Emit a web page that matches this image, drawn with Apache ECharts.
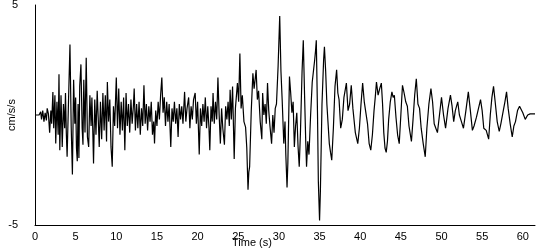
<!DOCTYPE html>
<html>
<head>
<meta charset="utf-8">
<script src="https://cdn.jsdelivr.net/npm/echarts@6/dist/echarts.min.js"></script>
<style>html,body{margin:0;padding:0;background:#fff}#c{width:550px;height:250px}</style>
</head>
<body>
<div id="c"></div>
<script>
// [time (s), acceleration (cm/s/s)]
const seg0to10 = [
 [0,0],[0.5,0],[0.7,0.15],[0.8,-0.2],[0.95,0.2],[1.1,-0.3],[1.25,0.1],[1.4,-0.25],[1.5,0.3],[1.65,0.05],
 [1.8,-0.8],[1.95,0.2],[2.05,-0.4],[2.2,1.05],[2.3,-0.6],[2.45,0.9],[2.55,-1.3],[2.7,0.6],[2.85,-0.9],[2.95,1.85],
 [3.05,-1.6],[3.2,0.9],[3.35,-1.45],[3.5,0.5],[3.65,-0.6],[3.75,1.0],[3.85,-0.8],[3.95,-1.9],[4.1,0.3],[4.3,3.2],
 [4.45,-0.5],[4.6,-2.7],[4.75,1.6],[4.9,-0.4],[5.0,0.8],[5.1,-1.5],[5.2,-2.1],[5.3,0.5],[5.4,-1.95],[5.5,1.3],
 [5.65,2.3],[5.8,-0.6],[5.9,-1.35],[6.0,1.6],[6.15,-0.8],[6.3,2.6],[6.45,-1.0],[6.6,-1.45],[6.75,0.9],[6.9,-0.5],
 [7.0,0.8],[7.1,-0.6],[7.2,-2.2],[7.35,0.7],[7.5,-0.9],[7.65,1.1],[7.8,-0.4],[7.9,-1.45],[8.05,0.6],[8.2,-1.1],
 [8.35,1.0],[8.5,-0.7],[8.65,0.9],[8.8,-1.2],[8.9,1.5],[9.05,-0.3],[9.2,0.7],[9.35,-1.45],[9.5,-2.35],[9.65,0.4],
 [9.8,-0.5]
];
const seg10to20 = [
 [10.0,1.7],[10.15,-0.6],[10.3,1.2],[10.45,-0.9],[10.6,0.6],[10.75,-0.7],[10.9,0.8],[11.05,-1.6],[11.2,1.0],[11.35,-0.5],
 [11.5,0.5],[11.65,-0.8],[11.8,0.7],[11.95,-0.4],[12.1,0.4],[12.2,1.2],[12.35,-0.7],[12.5,0.5],[12.65,-0.6],[12.8,0.6],
 [12.95,-0.9],[13.1,0.3],[13.25,-0.5],[13.4,1.35],[13.55,-0.4],[13.7,0.5],[13.85,-0.7],[14.0,0.4],[14.15,-0.3],[14.3,0.6],
 [14.45,-0.9],[14.6,-0.3],[14.7,-1.3],[14.85,0.2],[15.0,-0.5],[15.15,0.6],[15.3,-0.2],[15.45,0.9],[15.6,1.7],[15.75,0.1],
 [15.9,0.8],[16.05,-0.5],[16.2,0.6],[16.35,-0.3],[16.5,0.5],[16.7,-1.45],[16.85,0.3],[17.0,-0.3],[17.15,0.6],[17.3,-0.4],
 [17.45,0.3],[17.6,-1.0],[17.75,0.5],[17.9,-0.2],[18.05,0.4],[18.2,-0.4],[18.4,1.05],[18.55,-0.3],[18.7,0.3],[18.9,0.8],
 [19.05,-0.6],[19.2,0.4],[19.35,-0.2],[19.5,0.7],[19.7,1.0],[19.85,-0.4]
];
const seg20to30 = [
 [20.0,0.6],[20.2,-1.8],[20.35,0.3],[20.5,-0.5],[20.65,0.5],[20.8,-0.3],[20.95,0.8],[21.1,-0.6],[21.25,0.4],[21.4,-0.6],
 [21.5,-1.6],[21.65,0.4],[21.8,-0.3],[21.9,1.0],[22.05,-0.4],[22.2,0.6],[22.35,-0.2],[22.5,1.7],[22.65,0.0],[22.8,-1.3],
 [22.95,0.3],[23.1,-0.6],[23.3,-1.35],[23.45,0.4],[23.6,-0.2],[23.75,0.6],[23.9,-0.5],[24.0,1.15],[24.15,-0.2],[24.3,1.3],
 [24.5,-2.0],[24.65,0.3],[24.9,1.45],[25.05,0.6],[25.2,2.8],[25.35,0.3],[25.5,0.9],[25.7,-0.3],[25.9,-0.55],[26.05,-1.5],
 [26.2,-3.4],[26.3,-2.6],[26.4,-2.35],[26.6,0.2],[26.8,1.9],[26.95,1.2],[27.1,1.7],[27.2,2.05],[27.35,0.7],[27.5,1.1],
 [27.7,-0.3],[27.9,-1.1],[28.0,1.0],[28.15,0.0],[28.3,0.5],[28.45,-0.4],[28.6,1.45],[28.75,0.2],[28.9,-0.5],[29.1,-1.3],
 [29.25,0.0],[29.4,-0.8],[29.55,0.3],[29.7,0.5],[29.9,2.2]
];
const seg30to40 = [
 [30.1,4.5],[30.25,2.0],[30.4,0.7],[30.6,-1.3],[30.75,-0.3],[30.85,-1.8],[31.0,-3.3],[31.1,-2.2],[31.3,1.75],[31.45,1.0],
 [31.6,0.1],[31.75,0.6],[31.9,-1.45],[32.05,-0.5],[32.2,0.1],[32.35,-1.4],[32.5,-2.35],[32.65,-0.8],[32.85,2.0],[33.0,3.4],
 [33.15,1.0],[33.3,-1.2],[33.4,-2.35],[33.55,-1.2],[33.7,-1.8],[33.9,0.0],[34.1,1.5],[34.25,2.0],[34.4,2.5],[34.5,2.9],
 [34.6,3.4],[34.75,0.0],[34.85,-3.0],[35.0,-4.8],[35.1,-3.5],[35.3,0.5],[35.5,2.5],[35.6,3.1],[35.75,2.0],[35.9,0.5],
 [36.0,-0.1],[36.2,-1.3],[36.35,-1.7],[36.5,-2.05],[36.7,-0.6],[36.9,1.3],[37.1,2.05],[37.25,1.0],[37.4,0.7],[37.6,-0.6],
 [37.8,-0.2],[38.0,0.8],[38.3,1.45],[38.5,0.2],[38.7,0.5],[38.9,1.35],[39.1,0.3],[39.4,-0.8],[39.7,-1.3],[39.9,-0.6]
];
const seg40to50 = [
 [40.1,0.5],[40.3,1.45],[40.5,0.6],[40.7,0.1],[40.9,-0.4],[41.1,-1.3],[41.3,-1.6],[41.5,-0.9],[41.7,0.2],[41.85,0.8],
 [42.0,1.5],[42.2,0.9],[42.4,1.2],[42.6,1.45],[42.75,0.5],[42.9,-0.8],[43.05,-1.5],[43.2,-1.7],[43.35,-1.2],[43.5,-0.2],
 [43.7,0.6],[43.9,1.05],[44.05,0.8],[44.2,0.9],[44.4,-0.1],[44.6,-0.9],[44.8,-1.3],[45.0,0.0],[45.2,1.35],[45.4,1.0],
 [45.6,0.6],[45.8,0.4],[46.0,-0.5],[46.3,-1.2],[46.5,-0.2],[46.7,0.9],[46.9,1.65],[47.1,0.5],[47.3,0.3],[47.5,-0.6],
 [47.75,-1.3],[48.0,-1.9],[48.2,-0.6],[48.45,0.5],[48.7,1.2],[48.9,0.6],[49.1,-0.4],[49.3,-0.6],[49.5,-0.8],[49.75,0.0]
];
const seg50to61 = [
 [50.0,0.8],[50.25,0.0],[50.5,-0.6],[50.8,0.3],[51.1,0.9],[51.3,0.4],[51.5,-0.3],[51.7,0.2],[52.0,0.6],[52.2,0.0],
 [52.45,-0.3],[52.7,-0.6],[53.0,0.2],[53.3,1.05],[53.55,0.2],[53.8,-0.7],[54.0,-0.5],[54.3,-0.1],[54.55,0.3],[54.8,0.7],
 [55.0,0.2],[55.2,-0.6],[55.5,-0.7],[55.8,-1.1],[56.0,0.0],[56.2,0.8],[56.4,1.3],[56.6,0.6],[56.85,-0.3],[57.1,-0.75],
 [57.3,-0.4],[57.6,0.2],[57.8,0.6],[58.0,1.05],[58.2,0.3],[58.45,-0.4],[58.7,-1.0],[58.9,-0.5],[59.1,-0.3],[59.35,0.2],
 [59.6,0.4],[59.8,0.45],[60.0,0.1],[60.3,-0.2],[60.6,0.0],[60.9,0.05],[61.5,0.05]
];
const xTicks = [0,5,10,15,20,25,30,35,40,45,50,55,60];
const yTicks = [-5,5];
const xTitle = 'Time (s)';
const yTitle = 'cm/s/s';

const trace = [].concat(seg0to10, seg10to20, seg20to30, seg30to40, seg40to50, seg50to61);
const font = 'Liberation Sans, Arial, sans-serif';
const chart = echarts.init(document.getElementById('c'), null, {renderer: 'canvas'});
chart.setOption({
  animation: false,
  backgroundColor: '#fff',
  grid: {left: 35, right: 15, top: 5, bottom: 25, containLabel: false, outerBoundsMode: 'none'},
  xAxis: {
    type: 'value', min: 0, max: 61.5, interval: 5,
    axisLine: {show: true, onZero: false, lineStyle: {color: '#000', width: 1}},
    axisTick: {show: false},
    splitLine: {show: false},
    axisLabel: {color: '#000', fontFamily: font, fontSize: 11, margin: 6,
      customValues: xTicks, formatter: v => String(v)}
  },
  yAxis: {
    type: 'value', min: -5, max: 5, interval: 10,
    axisLine: {show: true, onZero: false, lineStyle: {color: '#000', width: 1}},
    axisTick: {show: false},
    splitLine: {show: false},
    axisLabel: {color: '#000', fontFamily: font, fontSize: 11, margin: 17,
      customValues: yTicks, formatter: v => String(v)}
  },
  graphic: [{
    type: 'text', left: 232, top: 237,
    style: {text: xTitle, fill: '#000', font: '11px ' + font}
  }, {
    type: 'text', x: 12, y: 115, rotation: Math.PI / 2,
    style: {text: yTitle, fill: '#000', font: '11px ' + font, align: 'center', verticalAlign: 'middle'}
  }],
  series: [{
    type: 'line', data: trace, showSymbol: false, symbol: 'none',
    lineStyle: {color: '#000', width: 1.2}, silent: true
  }]
});
</script>
</body>
</html>
